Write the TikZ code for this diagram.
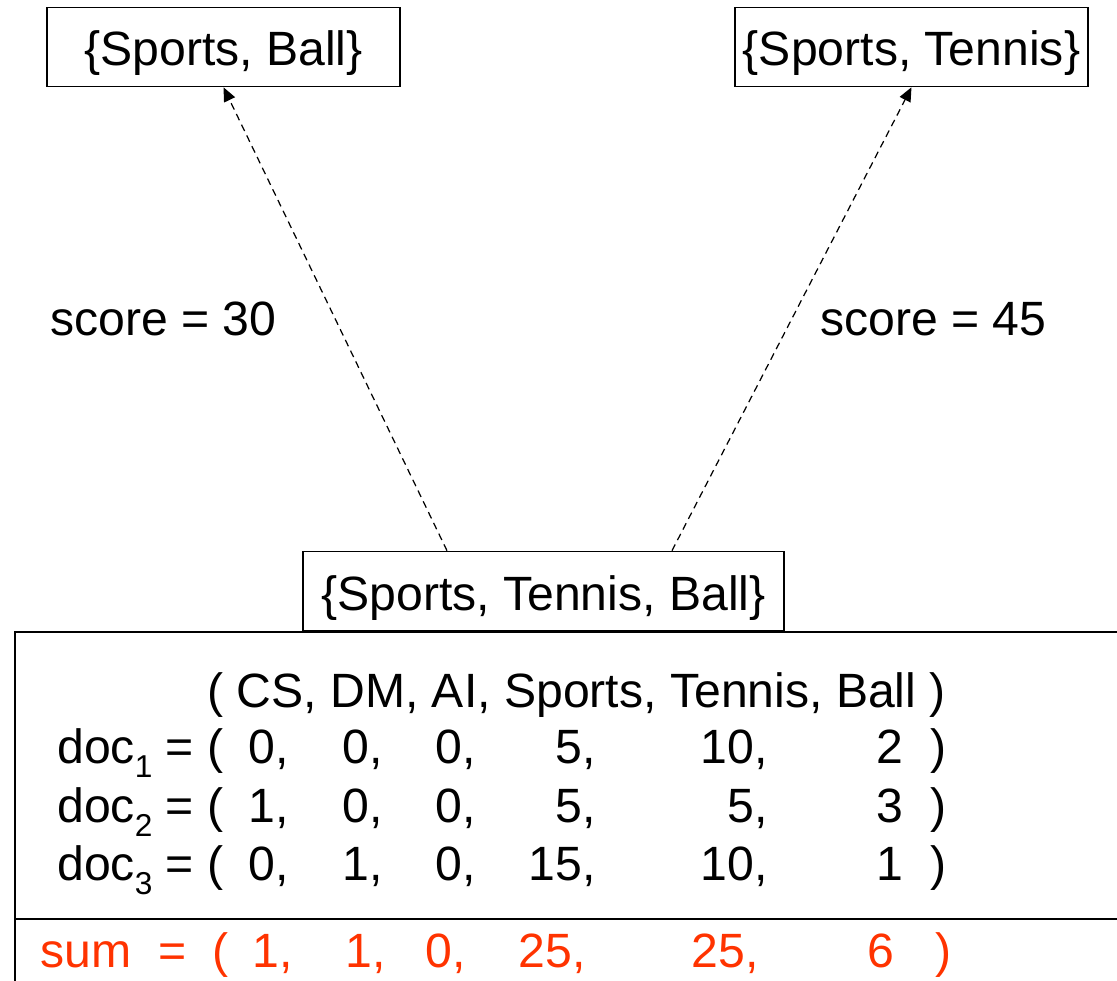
\documentclass[tikz,border=0pt]{standalone}
\usepackage{fontspec}
\setmainfont{Liberation Sans}
\usetikzlibrary{arrows.meta}
\definecolor{sumred}{RGB}{255, 51, 0}
\newcommand{\docsub}[1]{\raisebox{-0.3em}{\fontsize{18}{18}\selectfont #1}}

\begin{document}
\begin{tikzpicture}[
        x=0.02cm, y=-0.02cm,
        font=\fontsize{27.4}{32}\selectfont,
        setbox/.style={rectangle, draw, line width=0.9pt, inner sep=0pt,
            minimum height=1.58cm, text height=0.76cm, text depth=0pt},
        txt/.style={inner sep=0pt, anchor=base west},
        entry/.style={inner sep=0pt, anchor=base east},
        scorearrow/.style={-{Triangle[length=0.28cm, width=0.24cm]},
            line width=0.7pt, dash pattern=on 4pt off 2.8pt}
        ]
        \useasboundingbox (0,0) rectangle (1117,981);

        % candidate sets
        \node[setbox, minimum width=7.06cm] (ball) at (223.5,47) {\{Sports, Ball\}};
        \node[setbox, minimum width=7.06cm] (tennis) at (911.5,47) {\{Sports, Tennis\}};
        \node[setbox, minimum width=9.62cm] (all) at (543.5,591) {\{Sports, Tennis, Ball\}};

        \draw[scorearrow] ([xshift=-1.93cm]all.north) -- (ball.south);
        \draw[scorearrow] ([xshift=2.57cm]all.north) -- (tennis.south);
        \node[txt] (lscore) at (50,335) {score = 30};
        \node[txt] (rscore) at (820,335) {score = 45};

        % document vectors
        \draw[line width=0.9pt] (1117,632) -- (15,632) -- (15,981);
        \draw[line width=0.9pt] (15,919) -- (1117,919);
        \node[txt] (terms) at (207,707) {( CS, DM, AI, Sports, Tennis, Ball )};

        \foreach \row/\y/\a/\b/\c/\d/\e/\f in
            {1/763/0/0/0/5/10/2, 2/822/1/0/0/5/5/3, 3/880/0/1/0/15/10/1} {
            \node[txt] (doc\row) at (57,\y) {doc\docsub{\row} = (};
            \node[entry] (doc\row-cs) at (289,\y) {\a,};
            \node[entry] (doc\row-dm) at (383,\y) {\b,};
            \node[entry] (doc\row-ai) at (476,\y) {\c,};
            \node[entry] (doc\row-sp) at (596,\y) {\d,};
            \node[entry] (doc\row-te) at (768,\y) {\e,};
            \node[entry] (doc\row-ba) at (904,\y) {\f};
            \node[entry] (doc\row-end) at (947,\y) {)};
        }

        % column sums
        \begin{scope}[sumred]
            \node[txt] (sum) at (40,967) {sum~~=~~(};
            \node[entry] (sum-cs) at (293,967) {1,};
            \node[entry] (sum-dm) at (386,967) {1,};
            \node[entry] (sum-ai) at (466,967) {0,};
            \node[entry] (sum-sp) at (586,967) {25,};
            \node[entry] (sum-te) at (759,967) {25,};
            \node[entry] (sum-ba) at (895,967) {6};
            \node[entry] (sum-end) at (952,967) {)};
        \end{scope}
\end{tikzpicture}
\end{document}
